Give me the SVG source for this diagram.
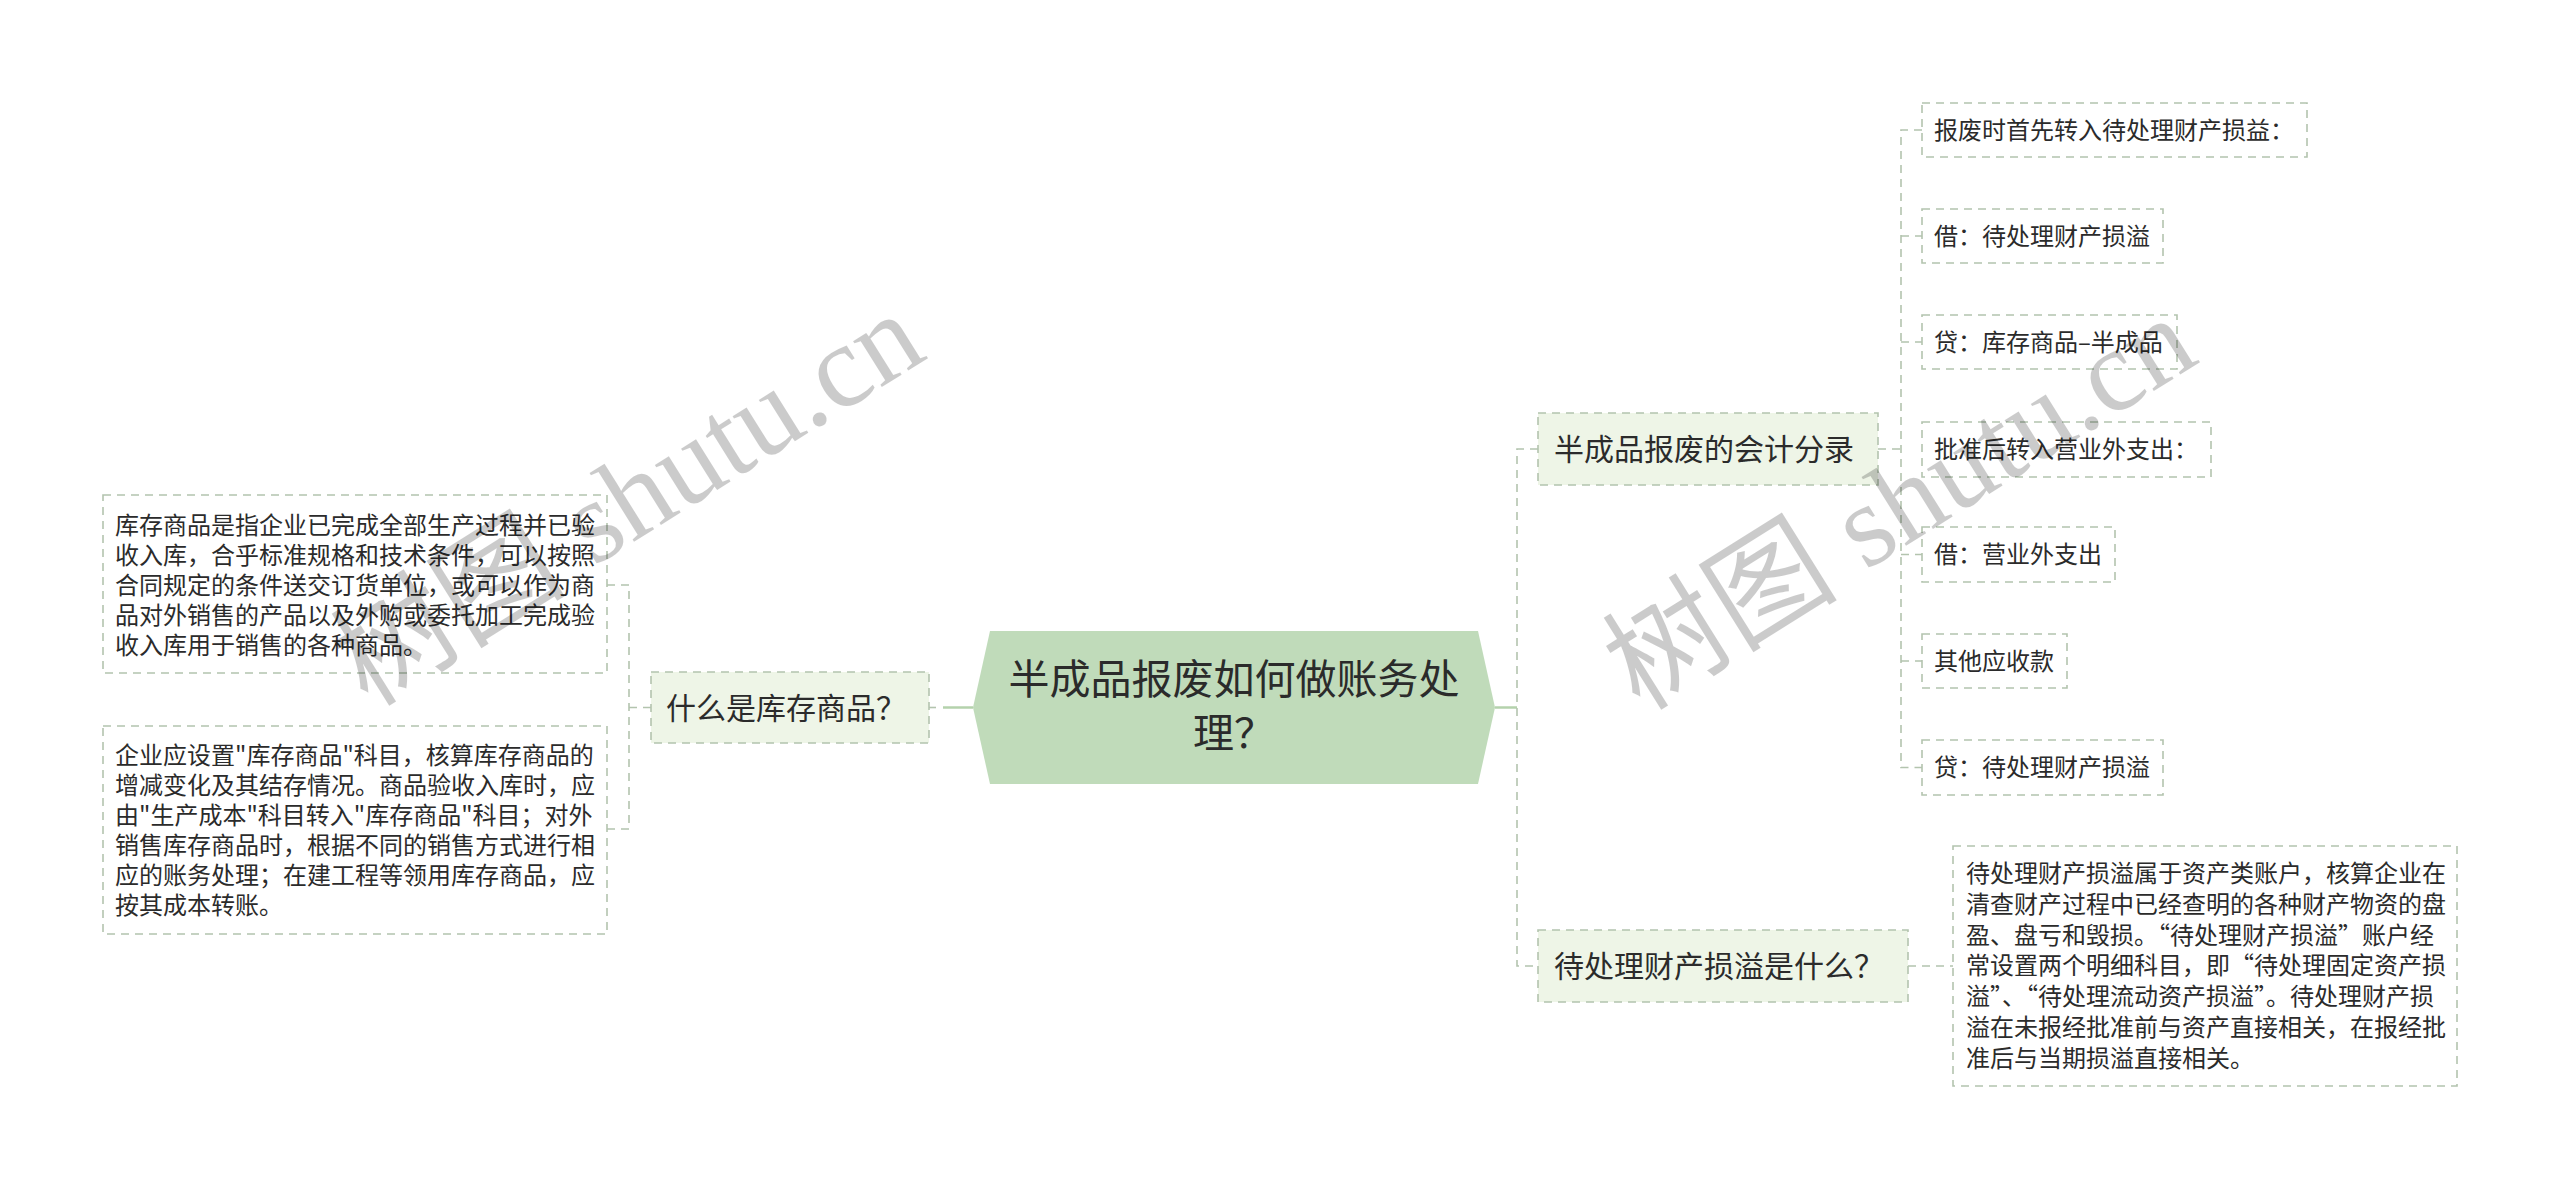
<svg xmlns="http://www.w3.org/2000/svg" width="2560" height="1189" viewBox="0 0 2560 1189">
<style>
text{font-family:"Noto Sans CJK SC","Noto Sans",sans-serif;fill:#2b2b2b}
.box{fill:#ffffff;stroke:#b3c4ae;stroke-width:1.6;stroke-dasharray:8 6}
.sub{fill:#eef5e7;stroke:#b3c4ae;stroke-width:1.6;stroke-dasharray:8 6}
.dl{fill:none;stroke:#b3c4ae;stroke-width:1.6;stroke-dasharray:8 6}
.sl{fill:none;stroke:#b4d2ac;stroke-width:2.5}
.t24{font-size:24px}
.t30{font-size:30px}
.wm{font-family:"Liberation Serif","Noto Sans CJK SC",serif;font-size:118px;fill:#000;opacity:0.2}
</style>
<rect width="2560" height="1189" fill="#ffffff"/>
<g id="connectors">
  <path class="sl" d="M943,707.5 H973"/>
  <path class="dl" d="M929,707.5 H936"/>
  <path class="dl" d="M651,707.5 H629 M607,585 H629 V829 H607"/>
  <path class="sl" d="M1495,707.5 H1517"/>
  <path class="dl" d="M1538,449 H1517 V966 H1538"/>
  <path class="dl" d="M1878,449 H1901 M1922,130 H1901 V767.5 H1922 M1901,236 H1922 M1901,342 H1922 M1901,554.5 H1922 M1901,661 H1922"/>
  <path class="dl" d="M1908,966 H1953"/>
</g>
<g id="root">
  <polygon points="990,631 1478,631 1495,707.5 1478,784 990,784 973,707.5" fill="#c0dbba"/>
  <text x="1234" y="694" font-size="41" text-anchor="middle">半成品报废如何做账务处</text>
  <text x="1234" y="748" font-size="41" text-anchor="middle">理？</text>
</g>
<g id="n-what-stock">
  <rect class="sub" x="651" y="672" width="278" height="71"/>
  <text class="t30" x="666" y="719">什么是库存商品？</text>
</g>
<g id="n-stock-def">
  <rect class="box" x="103" y="495" width="504" height="178"/>
  <text class="t24" x="115"><tspan x="115" y="534">库存商品是指企业已完成全部生产过程并已验</tspan><tspan x="115" y="564">收入库，合乎标准规格和技术条件，可以按照</tspan><tspan x="115" y="594">合同规定的条件送交订货单位，或可以作为商</tspan><tspan x="115" y="624">品对外销售的产品以及外购或委托加工完成验</tspan><tspan x="115" y="654">收入库用于销售的各种商品。</tspan></text>
</g>
<g id="n-stock-acct">
  <rect class="box" x="103" y="726" width="504" height="208"/>
  <text class="t24" x="115"><tspan x="115" y="764">企业应设置"库存商品"科目，核算库存商品的</tspan><tspan x="115" y="794">增减变化及其结存情况。商品验收入库时，应</tspan><tspan x="115" y="824">由"生产成本"科目转入"库存商品"科目；对外</tspan><tspan x="115" y="854">销售库存商品时，根据不同的销售方式进行相</tspan><tspan x="115" y="884">应的账务处理；在建工程等领用库存商品，应</tspan><tspan x="115" y="914">按其成本转账。</tspan></text>
</g>
<g id="n-entries">
  <rect class="sub" x="1538" y="413" width="340" height="72"/>
  <text class="t30" x="1554" y="460">半成品报废的会计分录</text>
</g>
<g id="leaf1">
  <rect class="box" x="1922" y="103" width="385" height="54"/>
  <text class="t24" x="1934" y="139">报废时首先转入待处理财产损益：</text>
</g>
<g id="leaf2">
  <rect class="box" x="1922" y="209" width="241" height="54"/>
  <text class="t24" x="1934" y="245">借：待处理财产损溢</text>
</g>
<g id="leaf3">
  <rect class="box" x="1922" y="315" width="255" height="54"/>
  <text class="t24" x="1934" y="351">贷：库存商品–半成品</text>
</g>
<g id="leaf4">
  <rect class="box" x="1922" y="422" width="289" height="55"/>
  <text class="t24" x="1934" y="458">批准后转入营业外支出：</text>
</g>
<g id="leaf5">
  <rect class="box" x="1922" y="527" width="193" height="55"/>
  <text class="t24" x="1934" y="563">借：营业外支出</text>
</g>
<g id="leaf6">
  <rect class="box" x="1922" y="634" width="145" height="54"/>
  <text class="t24" x="1934" y="670">其他应收款</text>
</g>
<g id="leaf7">
  <rect class="box" x="1922" y="740" width="241" height="55"/>
  <text class="t24" x="1934" y="776">贷：待处理财产损溢</text>
</g>
<g id="n-pending">
  <rect class="sub" x="1538" y="930" width="370" height="72"/>
  <text class="t30" x="1554" y="977">待处理财产损溢是什么？</text>
</g>
<g id="n-pending-def">
  <rect class="box" x="1953" y="846" width="504" height="240"/>
  <text class="t24" x="1966"><tspan x="1966" y="882">待处理财产损溢属于资产类账户，核算企业在</tspan><tspan x="1966" y="913">清查财产过程中已经查明的各种财产物资的盘</tspan><tspan x="1966" y="944">盈、盘亏和毁损。“待处理财产损溢”账户经</tspan><tspan x="1966" y="974">常设置两个明细科目，即“待处理固定资产损</tspan><tspan x="1966" y="1005">溢”、“待处理流动资产损溢”。待处理财产损</tspan><tspan x="1966" y="1036">溢在未报经批准前与资产直接相关，在报经批</tspan><tspan x="1966" y="1067">准后与当期损溢直接相关。</tspan></text>
</g>
<g id="watermarks">
  <text class="wm" transform="translate(368,708) rotate(-32)">树图 shutu.cn</text>
  <text class="wm" transform="translate(1640,712) rotate(-32)">树图 shutu.cn</text>
</g>
</svg>
